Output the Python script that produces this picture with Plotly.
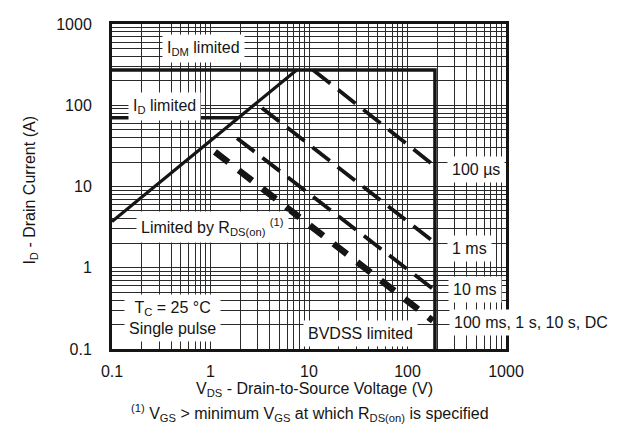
import plotly.graph_objects as go

# ---- data (V, A) ----
x_ticks = [0.1, 1, 10, 100, 1000]
x_tick_text = ["0.1", "1", "10", "100", "1000"]
y_ticks = [0.1, 1, 10, 100, 1000]
y_tick_text = ["0.1", "1", "10", "100", "1000"]

rds_v = [0.1, 7.5]          # Limited by RDS(on)
rds_i = [3.7, 272]
id_v = [0.1, 1.9]           # ID limited
id_i = [70, 70]
box_v = [0.1, 190, 190]     # IDM limited + BVDSS limited
box_i = [272, 272, 0.1]

p100us_v = [11, 181]
p100us_i = [272, 18.6]
p1ms_v = [3.33, 179]
p1ms_i = [92.7, 2.15]
p10ms_v = [1.86, 179]
p10ms_i = [39.3, 0.556]
pdc_v = [1.11, 181]
pdc_i = [26.7, 0.223]

FONT = "Liberation Sans, Arial, Helvetica, sans-serif"
INK = "#151515"

fig = go.Figure()

fig.add_trace(go.Scatter(x=box_v, y=box_i, mode="lines", line=dict(color=INK, width=3.5)))
fig.add_trace(go.Scatter(x=id_v, y=id_i, mode="lines", line=dict(color=INK, width=3.5)))
fig.add_trace(go.Scatter(x=rds_v, y=rds_i, mode="lines", line=dict(color=INK, width=3.2)))

thin_dash = dict(color=INK, width=3.8, dash="22px,10px")
fig.add_trace(go.Scatter(x=p100us_v, y=p100us_i, mode="lines", line=thin_dash))
fig.add_trace(go.Scatter(x=p1ms_v, y=p1ms_i, mode="lines", line=thin_dash))
fig.add_trace(go.Scatter(x=p10ms_v, y=p10ms_i, mode="lines", line=thin_dash))
fig.add_trace(go.Scatter(x=pdc_v, y=pdc_i, mode="lines",
                         line=dict(color=INK, width=6.5, dash="17px,13px")))

grid_col = "#2a2a2a"
axis_common = dict(
    type="log",
    showline=True, linecolor=INK, linewidth=3, mirror=True,
    showgrid=True, gridcolor=grid_col, gridwidth=1.4,
    tickmode="array",
    ticks="outside", tickcolor="rgba(0,0,0,0)",
    tickfont=dict(family=FONT, size=16, color=INK),
    minor=dict(dtick="D1", showgrid=True, gridcolor=grid_col, gridwidth=1.4, ticks=""),
    zeroline=False,
)

# the page body adds an 8px offset; the figure is sized to fit the 628x433 window
fig.update_layout(
    width=620, height=425,
    margin=dict(l=104, r=122, t=8, b=84),
    paper_bgcolor="white", plot_bgcolor="white",
    showlegend=False,
    font=dict(family=FONT, size=16, color=INK),
    xaxis=dict(axis_common, range=[-1, 3], tickvals=x_ticks, ticktext=x_tick_text, ticklen=6),
    yaxis=dict(axis_common, range=[-1, 3], tickvals=y_ticks, ticktext=y_tick_text, ticklen=14),
)

labels_in = [
    ("I<sub>DM</sub> limited", -0.076, 2.70, "center"),
    ("I<sub>D</sub> limited", -0.462, 1.99, "center"),
    ("Limited by R<sub>DS(on)</sub> <sup>(1)</sup>", 0.025, 0.50, "center"),
    ("T<sub>C</sub> = 25 °C<br>Single pulse", -0.39, -0.616, "center"),
    ("BVDSS limited", 1.518, -0.808, "center"),
    ("100 µs", 2.40, 1.21, "left"),
    ("1 ms", 2.40, 0.237, "left"),
    ("10 ms", 2.41, -0.267, "left"),
    ("100 ms, 1 s, 10 s, DC", 2.42, -0.676, "left"),
]
for txt, lx, ly, anc in labels_in:
    fig.add_annotation(text=txt, x=lx, y=ly, xref="x", yref="y", xanchor=anc, yanchor="middle",
                       showarrow=False, bgcolor="white", borderpad=4,
                       font=dict(family=FONT, size=16, color=INK))

fig.add_annotation(text="V<sub>DS</sub> - Drain-to-Source Voltage (V)", x=0.513, y=-0.125,
                   xref="paper", yref="paper", showarrow=False, xanchor="center", yanchor="middle",
                   font=dict(family=FONT, size=16, color=INK))
fig.add_annotation(text="<sup>(1)</sup> V<sub>GS</sub> > minimum V<sub>GS</sub> at which R<sub>DS(on)</sub> is specified",
                   x=0.503, y=-0.198, xref="paper", yref="paper", showarrow=False,
                   xanchor="center", yanchor="middle",
                   font=dict(family=FONT, size=16, color=INK))
fig.add_annotation(text="I<sub>D</sub> - Drain Current (A)", x=-0.206, y=0.49, xref="paper", yref="paper",
                   showarrow=False, textangle=-90, xanchor="center", yanchor="middle",
                   font=dict(family=FONT, size=16, color=INK))

fig.write_html("out.html")
